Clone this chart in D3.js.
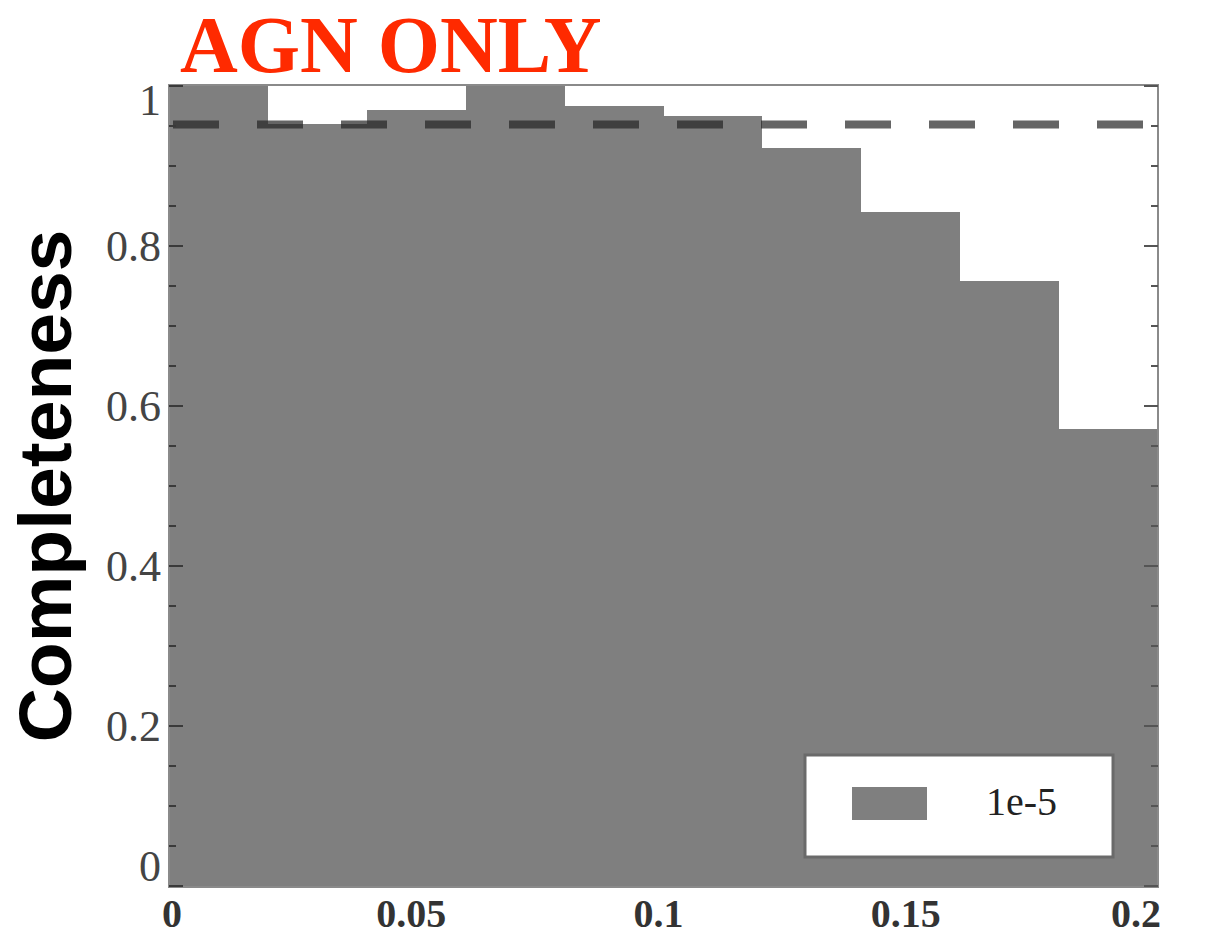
<!DOCTYPE html>
<html>
<head>
<meta charset="utf-8">
<script src="https://cdn.jsdelivr.net/npm/d3@7"></script>
<style>
  html, body { margin: 0; padding: 0; background: #fff; }
  svg { display: block; }
</style>
</head>
<body>
<svg id="chart" width="1217" height="937"></svg>
<script>
// Histogram bins (lower edge, upper edge) and completeness per bin
const binEdges = [0, 0.02, 0.04, 0.06, 0.08, 0.10, 0.12, 0.14, 0.16, 0.18, 0.20];
const completeness = [1.0, 0.953, 0.970, 1.0, 0.975, 0.963, 0.922, 0.843, 0.756, 0.571];
const referenceLevel = 0.952;
const xTickValues = [0, 0.05, 0.1, 0.15, 0.2];
const xTickLabels = ["0", "0.05", "0.1", "0.15", "0.2"];
const yTickValues = [0, 0.2, 0.4, 0.6, 0.8, 1];
const yTickLabels = ["0", "0.2", "0.4", "0.6", "0.8", "1"];
const legendLabel = "1e-5";
const titleText = "AGN ONLY";
const yTitle = "Completeness";

const svg = d3.select("#chart");
const plotLeft = 169, plotRight = 1158, plotTop = 86, plotBottom = 886;

const x = d3.scaleLinear().domain([0, 0.2]).range([plotLeft, plotRight]);
const y = d3.scaleLinear().domain([0, 1]).range([plotBottom, plotTop]);

const barColor = "#7f7f7f";

// bars, snapped to whole pixels so neighbouring bins join without seams
const bins = completeness.map((v, i) => ({ x0: binEdges[i], x1: binEdges[i + 1], v }));
svg.append("g").attr("shape-rendering", "crispEdges")
  .selectAll("rect").data(bins).join("rect")
  .attr("x", d => Math.round(x(d.x0)))
  .attr("width", d => Math.round(x(d.x1)) - Math.round(x(d.x0)))
  .attr("y", d => Math.round(y(d.v)))
  .attr("height", d => Math.round(y(0)) - Math.round(y(d.v)))
  .attr("fill", barColor);

// dashed reference line
svg.append("line")
  .attr("x1", x(0)).attr("x2", x(0.2))
  .attr("y1", y(referenceLevel)).attr("y2", y(referenceLevel))
  .attr("stroke", "#242424").attr("stroke-opacity", 0.7)
  .attr("stroke-width", 8)
  .attr("stroke-dasharray", "46 38")
  .attr("stroke-dashoffset", -4);

// plot frame
svg.append("rect")
  .attr("x", plotLeft).attr("y", plotTop - 1)
  .attr("width", plotRight - plotLeft).attr("height", plotBottom - plotTop + 2)
  .attr("fill", "none").attr("stroke", "#8a8a8a").attr("stroke-width", 2);

// y ticks on both sides (inward)
const minorY = d3.range(0, 1.0001, 0.05);
const majorSet = new Set(yTickValues.map(v => v.toFixed(2)));
const tickG = svg.append("g").attr("stroke", "#3a3a3a").attr("stroke-width", 2);
minorY.forEach(v => {
  const len = majorSet.has(v.toFixed(2)) ? 14 : 7;
  tickG.append("line").attr("x1", plotLeft).attr("x2", plotLeft + len)
    .attr("y1", y(v)).attr("y2", y(v));
  tickG.append("line").attr("x1", plotRight).attr("x2", plotRight - len)
    .attr("y1", y(v)).attr("y2", y(v)).attr("stroke", "#555");
});

// y tick labels
const yOffsets = { "0": -20, "1": 14 };
svg.append("g").selectAll("text").data(yTickValues).join("text")
  .attr("x", 161)
  .attr("y", (d, i) => y(d) + 15 + (yOffsets[yTickLabels[i]] || 0))
  .attr("text-anchor", "end")
  .attr("font-family", "Liberation Serif, serif")
  .attr("font-size", 44)
  .attr("fill", "#444")
  .text((d, i) => yTickLabels[i]);

// x tick labels
svg.append("g").selectAll("text").data(xTickValues).join("text")
  .attr("x", (d, i) => x(d) + (i === 0 ? 3 : i === xTickValues.length - 1 ? -22 : -5))
  .attr("y", 927)
  .attr("text-anchor", "middle")
  .attr("font-family", "Liberation Serif, serif")
  .attr("font-size", 40)
  .attr("font-weight", "bold")
  .attr("fill", "#333")
  .text((d, i) => xTickLabels[i]);

// legend
svg.append("rect")
  .attr("x", 805).attr("y", 755).attr("width", 308).attr("height", 102)
  .attr("fill", "#fff").attr("stroke", "#6a6a6a").attr("stroke-width", 3);
svg.append("rect")
  .attr("x", 852).attr("y", 787).attr("width", 75).attr("height", 33)
  .attr("fill", barColor);
svg.append("text")
  .attr("x", 986).attr("y", 815)
  .attr("font-family", "Liberation Serif, serif")
  .attr("font-size", 40)
  .attr("fill", "#222")
  .text(legendLabel);

// title
svg.append("text")
  .attr("x", 180).attr("y", 72)
  .attr("font-family", "Liberation Serif, serif")
  .attr("font-weight", "bold")
  .attr("font-size", 80)
  .attr("fill", "#ff2a00")
  .text(titleText);

// y-axis title
svg.append("text")
  .attr("transform", "translate(71,486) rotate(-90)")
  .attr("text-anchor", "middle")
  .attr("font-family", "Liberation Sans, Arial, sans-serif")
  .attr("font-weight", "bold")
  .attr("font-size", 75)
  .attr("fill", "#000")
  .text(yTitle);
</script>
</body>
</html>
